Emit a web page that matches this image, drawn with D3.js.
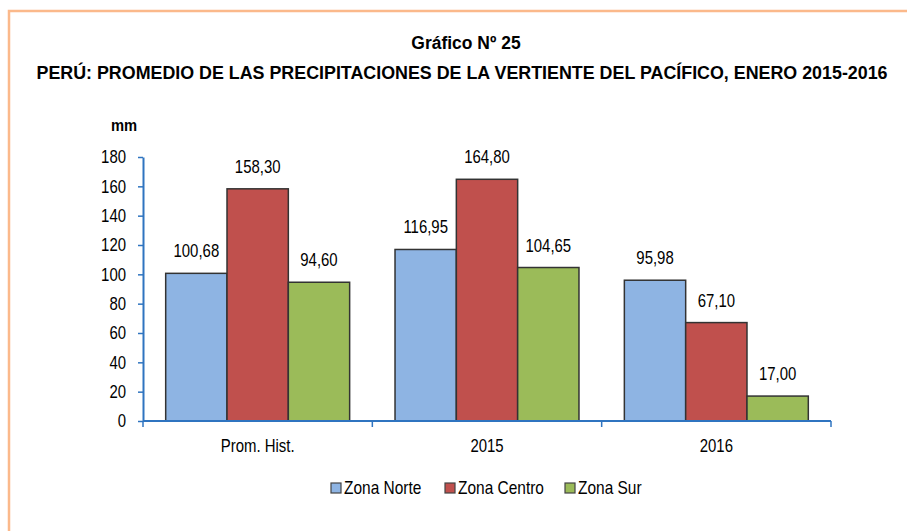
<!DOCTYPE html>
<html lang="es">
<head>
  <meta charset="UTF-8">
  <title>Gráfico Nº 25</title>
  <style>
    body { margin: 0; background: #fff; }
    svg { display: block; font-family: "Liberation Sans", Arial, sans-serif; }
  </style>
  <script src="https://d3js.org/d3.v7.min.js"></script>
</head>
<body>
  <div id="chart"></div>
  <script>
    const categories = ["Prom. Hist.", "2015", "2016"];
    const series = ["Zona Norte", "Zona Centro", "Zona Sur"];
    const zonaNorte = [100.68, 116.95, 95.98];
    const zonaCentro = [158.30, 164.80, 67.10];
    const zonaSur = [94.60, 104.65, 17.00];
    const yTicks = [0, 20, 40, 60, 80, 100, 120, 140, 160, 180];
    const colors = ["#8eb4e3", "#c0504d", "#9bbb59"];

    const values = [zonaNorte, zonaCentro, zonaSur];
    const rows = categories.map((c, i) => ({
      cat: c,
      vals: series.map((s, j) => ({ key: s, value: values[j][i], color: colors[j] }))
    }));

    const width = 907, height = 531;
    const plotLeft = 143, plotRight = 831, plotTop = 157, plotBottom = 421;
    const narrow = 0.83; // no Arial Narrow here, so squeeze Liberation Sans

    const svg = d3.select("#chart").append("svg")
        .attr("width", width)
        .attr("height", height);

    // squeezed text placed at (x, y)
    function label(parent, x, y, txt, opts = {}) {
      return parent.append("text")
          .attr("transform", `translate(${x},${y}) scale(${opts.sx || narrow},1)`)
          .attr("text-anchor", opts.anchor || "middle")
          .attr("font-size", opts.size || 18)
          .attr("font-weight", opts.bold ? "bold" : null)
          .text(txt);
    }

    // orange frame (runs off the right and bottom edge)
    svg.append("rect")
        .attr("x", 9).attr("y", 11)
        .attr("width", 1000).attr("height", 1000)
        .attr("fill", "none")
        .attr("stroke", "#fbb98b")
        .attr("stroke-width", 2.5);

    label(svg, 466, 49, "Gráfico Nº 25", { size: 19, bold: true, sx: 0.92 });
    label(svg, 462, 79, "PERÚ: PROMEDIO DE LAS PRECIPITACIONES DE LA VERTIENTE DEL PACÍFICO, ENERO 2015-2016",
          { size: 19, bold: true, sx: 0.94 });

    const x0 = d3.scaleBand().domain(categories).range([plotLeft, plotRight]);
    const x1 = d3.scaleBand().domain(series).range([0, x0.bandwidth()]).paddingOuter(0.37);
    const y = d3.scaleLinear().domain([0, 180]).range([plotBottom, plotTop]);

    // y axis
    const yAxis = svg.append("g")
        .attr("transform", `translate(${plotLeft},0)`)
        .call(d3.axisLeft(y).tickValues(yTicks).tickSize(5).tickSizeOuter(0));
    yAxis.select(".domain").attr("stroke", "#2f74c0").attr("stroke-width", 2);
    yAxis.selectAll(".tick line").attr("stroke", "#2f74c0").attr("stroke-width", 1.5);
    yAxis.selectAll(".tick text")
        .attr("x", -17 / narrow)
        .attr("transform", `scale(${narrow},1)`)
        .attr("font-size", 18)
        .attr("fill", "#000")
        .attr("font-family", "inherit");

    label(svg, 124, 131, "mm", { size: 16, bold: true, sx: 0.92 });

    // bars
    const groups = svg.append("g").selectAll("g")
      .data(rows)
      .join("g")
        .attr("transform", d => `translate(${x0(d.cat)},0)`);

    groups.selectAll("rect")
      .data(d => d.vals)
      .join("rect")
        .attr("x", d => x1(d.key))
        .attr("y", d => y(d.value))
        .attr("width", x1.bandwidth())
        .attr("height", d => y(0) - y(d.value))
        .attr("fill", d => d.color)
        .attr("stroke", "#333")
        .attr("stroke-width", 1.5);

    groups.each(function(d) {
      const g = d3.select(this);
      d.vals.forEach(v => {
        label(g, x1(v.key) + x1.bandwidth() / 2, y(v.value) - 16,
              d3.format(".2f")(v.value).replace(".", ","));
      });
    });

    // x axis
    const xAxis = svg.append("g")
        .attr("transform", `translate(0,${plotBottom})`);
    xAxis.append("line")
        .attr("x1", plotLeft).attr("x2", plotRight)
        .attr("stroke", "#2f74c0").attr("stroke-width", 2);
    xAxis.selectAll(".tk")
      .data(categories.map(c => x0(c)).concat([plotRight]))
      .join("line")
        .attr("class", "tk")
        .attr("x1", d => d).attr("x2", d => d)
        .attr("y1", 0).attr("y2", 6)
        .attr("stroke", "#2f74c0").attr("stroke-width", 1.5);
    categories.forEach(c => label(xAxis, x0(c) + x0.bandwidth() / 2, 31, c));

    // legend
    const legendX = [331, 445, 565];
    series.forEach((s, i) => {
      const g = svg.append("g").attr("transform", `translate(${legendX[i]},483)`);
      g.append("rect")
          .attr("width", 10).attr("height", 10)
          .attr("fill", colors[i])
          .attr("stroke", "#444")
          .attr("stroke-width", 1.2);
      label(g, 13, 11, s, { anchor: "start", sx: 0.86 });
    });
  </script>
</body>
</html>
